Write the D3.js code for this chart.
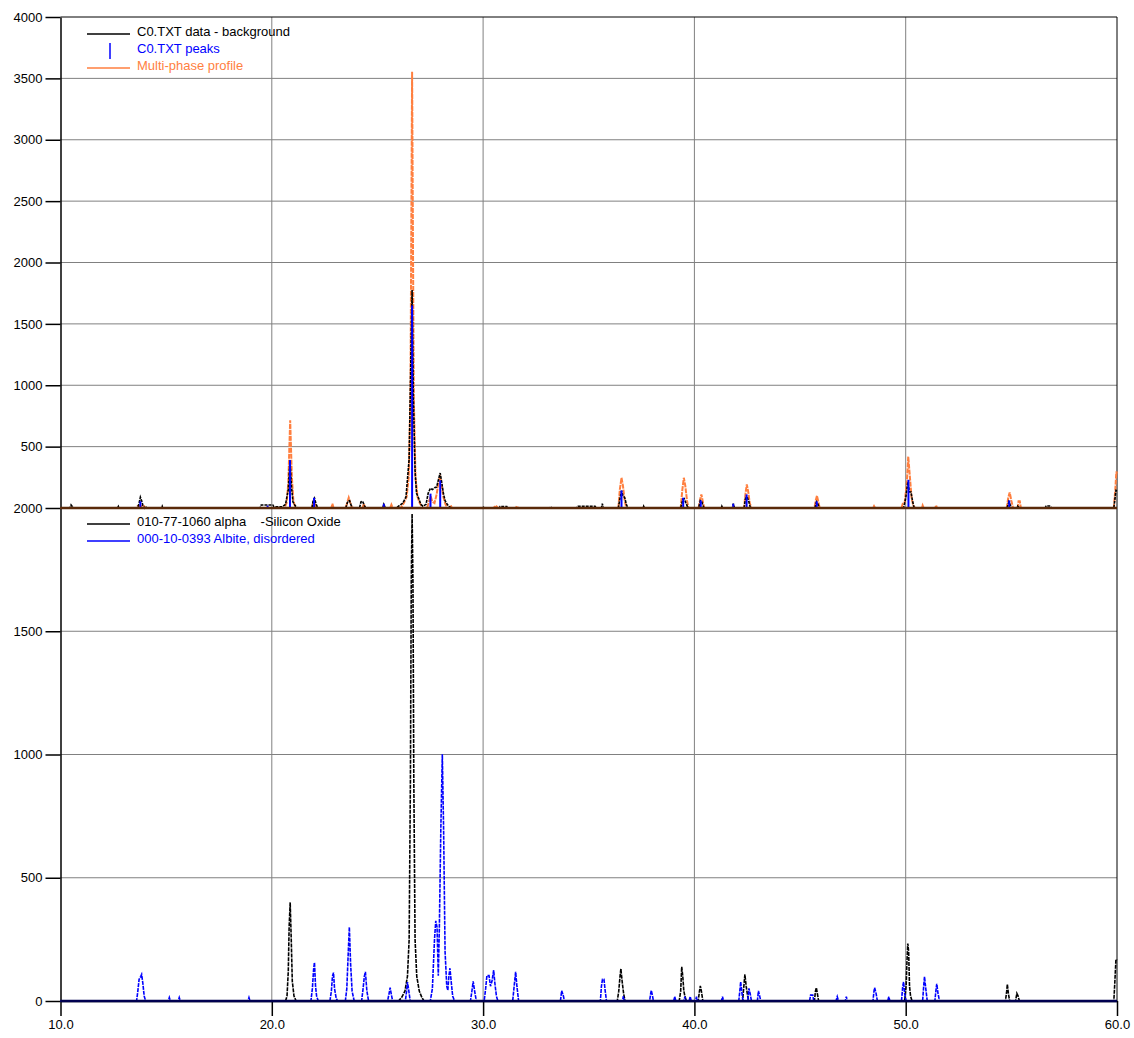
<!DOCTYPE html>
<html>
<head>
<meta charset="utf-8">
<script src="https://cdn.jsdelivr.net/npm/d3@7"></script>
<style>
  body { margin: 0; background: #fff; }
  svg text { font-family: "Liberation Sans", Arial, sans-serif; }
</style>
</head>
<body>
<svg id="chart" width="1134" height="1038"></svg>
<script>
// ---- data (2-theta, counts) ----
var xTicks = [10, 20, 30, 40, 50, 60];
var topTicks = [500, 1000, 1500, 2000, 2500, 3000, 3500, 4000];
var botTicks = [0, 500, 1000, 1500, 2000];

var topLegend = ["C0.TXT data - background", "C0.TXT peaks", "Multi-phase profile"];
var botLegend = ["010-77-1060 alpha    -Silicon Oxide", "000-10-0393 Albite, disordered"];

// data - background (top, black)
var dataMinusBg = [[10,0],[10.45,0],[10.5,25],[10.58,8],[10.65,0],
  [12.7,0],[12.74,14],[12.78,0],
  [13.65,0],[13.72,40],[13.78,88],[13.84,60],[13.9,20],[13.98,0],[14.02,14],[14.08,0],
  [14.8,0],[14.82,14],[14.86,0],
  [19.45,0],[19.5,25],[20.05,25],[20.1,10],[20.5,10],[20.65,30],[20.78,150],[20.86,390],[20.93,180],[21.0,50],[21.1,20],[21.2,0],
  [21.9,0],[21.95,55],[22.02,80],[22.1,30],[22.18,0],
  [23.5,0],[23.6,55],[23.68,60],[23.76,20],[23.85,0],
  [24.15,0],[24.22,50],[24.3,55],[24.38,20],[24.45,0],
  [25.25,0],[25.3,30],[25.38,0],
  [25.9,0],[26.0,15],[26.2,40],[26.35,90],[26.5,400],[26.58,1200],[26.64,1775],[26.7,900],[26.78,300],[26.85,120],[26.95,80],[27.05,30],[27.15,15],
  [27.3,30],[27.4,120],[27.5,160],[27.6,150],[27.7,165],[27.8,170],[27.9,240],[27.97,285],[28.05,200],[28.12,120],[28.2,60],[28.3,30],[28.4,10],[28.5,0],
  [29.98,0],[30.0,12],[30.04,0],[30.78,0],[30.8,12],[31.12,12],[31.15,0],[33.18,0],[33.2,12],[33.24,0],
  [34.4,0],[34.5,14],[35.3,14],[35.35,0],
  [35.6,0],[35.64,35],[35.7,0],
  [36.4,0],[36.48,80],[36.55,140],[36.62,100],[36.7,85],[36.78,30],[36.85,0],
  [37.58,0],[37.6,14],[37.64,0],
  [39.35,0],[39.45,70],[39.52,76],[39.6,40],[39.7,0],
  [40.2,0],[40.28,60],[40.35,50],[40.45,0],
  [41.28,0],[41.3,14],[41.34,0],
  [41.8,0],[41.84,35],[41.9,0],
  [42.35,0],[42.42,80],[42.5,89],[42.58,50],[42.65,0],
  [45.7,0],[45.78,50],[45.85,30],[45.92,0],
  [49.9,0],[50.0,80],[50.1,210],[50.18,130],[50.25,130],[50.32,60],[50.4,0],
  [54.8,0],[54.88,50],[54.96,20],[55.0,0],[55.28,0],[55.3,14],[55.4,0],
  [56.6,0],[56.65,16],[56.85,16],[56.9,0],
  [59.85,0],[59.95,143],[60,140]];

// peak positions and heights (top, blue sticks)
var peakPos = [13.78, 19.8, 20.86, 22.0, 25.3, 26.64, 27.51, 27.97, 36.55, 39.47, 40.3, 41.84, 42.47, 45.79, 50.13, 54.9];
var peakHeight = [55, 20, 390, 84, 35, 1650, 117, 225, 143, 84, 62, 35, 111, 54, 230, 62];

// multi-phase profile (top, orange)
var profile = [[10,0],[13.6,0],[13.65,16],[13.95,16],[14.0,0],
  [20.6,0],[20.7,40],[20.78,200],[20.87,714],[20.95,250],[21.02,60],[21.12,0],
  [21.9,0],[22.0,70],[22.1,0],
  [22.82,0],[22.87,35],[22.92,0],
  [23.5,0],[23.58,50],[23.64,84],[23.72,40],[23.8,0],
  [24.3,0],[24.35,35],[24.42,0],
  [25.6,0],[25.66,27],[25.72,0],
  [26.1,0],[26.25,40],[26.38,90],[26.48,250],[26.56,900],[26.6,2200],[26.64,3553],[26.68,2200],[26.72,900],[26.8,250],[26.9,90],[27.0,40],[27.15,0],
  [27.35,0],[27.45,60],[27.52,95],[27.6,50],[27.7,40],[27.8,110],[27.9,220],[27.96,252],[28.03,200],[28.12,90],[28.22,30],[28.32,0],
  [28.42,0],[28.47,22],[28.52,0],
  [30.5,0],[30.6,20],[30.7,0],
  [31.55,0],[31.6,15],[31.65,0],
  [36.4,0],[36.47,150],[36.55,246],[36.62,180],[36.7,60],[36.78,0],
  [39.35,0],[39.43,150],[39.5,246],[39.57,180],[39.65,60],[39.72,0],
  [40.2,0],[40.27,70],[40.33,111],[40.4,50],[40.47,0],
  [42.35,0],[42.42,120],[42.48,192],[42.55,130],[42.62,40],[42.7,0],
  [45.68,0],[45.74,60],[45.8,100],[45.86,55],[45.93,0],
  [48.45,0],[48.5,16],[48.55,0],
  [49.8,0],[49.86,35],[49.95,40],[50.05,200],[50.12,419],[50.2,250],[50.28,80],[50.36,20],[50.45,0],
  [50.75,0],[50.8,22],[50.85,0],
  [51.4,0],[51.44,22],[51.48,0],
  [54.78,0],[54.85,80],[54.92,127],[55.0,60],[55.08,0],
  [55.3,0],[55.34,54],[55.4,54],[55.45,0],
  [59.85,0],[59.92,150],[59.97,297],[60,280]];

// reference pattern 010-77-1060 (bottom, black)
var quartz = [[10,0],[20.65,0],[20.72,20],[20.78,120],[20.82,300],[20.87,400],[20.92,250],[20.97,80],[21.05,20],[21.15,0],
  [26.0,0],[26.15,15],[26.3,40],[26.42,100],[26.5,250],[26.56,900],[26.6,1700],[26.64,1976],[26.68,1700],[26.72,900],[26.78,250],[26.86,100],[26.98,40],[27.1,15],[27.2,0],
  [36.35,0],[36.42,40],[36.48,100],[36.52,131],[36.58,80],[36.65,30],[36.72,0],
  [39.28,0],[39.35,40],[39.4,139],[39.45,100],[39.5,40],[39.55,20],[39.62,0],
  [40.18,0],[40.24,40],[40.28,61],[40.33,40],[40.4,0],
  [42.28,0],[42.34,60],[42.39,108],[42.45,60],[42.52,20],[42.58,0],
  [45.68,0],[45.73,40],[45.77,54],[45.82,30],[45.88,0],
  [49.95,0],[50.02,60],[50.06,160],[50.1,233],[50.14,200],[50.18,60],[50.23,20],[50.3,0],
  [54.72,0],[54.78,40],[54.81,68],[54.86,30],[54.92,0],
  [55.2,0],[55.26,31],[55.32,20],[55.38,0],
  [59.85,0],[59.9,80],[59.95,169],[60,165]];

// reference pattern 000-10-0393 (bottom, blue)
var albite = [[10,0],[13.6,0],[13.66,40],[13.72,88],[13.8,100],[13.84,108],[13.9,70],[13.96,20],[14.03,0],
  [15.1,0],[15.15,14],[15.2,0],
  [15.57,0],[15.62,14],[15.67,0],
  [18.87,0],[18.92,14],[18.97,0],
  [21.85,0],[21.92,50],[21.98,130],[22.02,156],[22.07,60],[22.12,20],[22.2,0],
  [22.75,0],[22.82,40],[22.87,100],[22.92,115],[22.97,50],[23.05,10],[23.12,0],
  [23.48,0],[23.55,50],[23.62,200],[23.67,300],[23.73,150],[23.8,40],[23.9,0],
  [24.25,0],[24.32,50],[24.38,100],[24.43,118],[24.5,40],[24.58,0],
  [25.48,0],[25.55,30],[25.6,54],[25.66,25],[25.72,0],
  [26.32,0],[26.38,40],[26.42,77],[26.47,50],[26.55,0],
  [27.5,0],[27.6,50],[27.7,250],[27.76,325],[27.82,300],[27.88,103],[27.93,300],[28.0,700],[28.07,1001],[28.13,700],[28.2,200],[28.28,60],[28.33,43],[28.38,100],[28.43,133],[28.5,70],[28.56,20],[28.65,0],
  [29.4,0],[29.47,40],[29.53,80],[29.6,40],[29.68,0],
  [30.05,0],[30.12,50],[30.18,103],[30.28,103],[30.35,60],[30.42,80],[30.5,125],[30.56,70],[30.63,20],[30.7,0],
  [31.4,0],[31.47,60],[31.54,118],[31.6,60],[31.68,0],
  [33.66,0],[33.72,42],[33.8,20],[33.85,0],
  [35.55,0],[35.6,60],[35.65,88],[35.72,88],[35.78,40],[35.84,0],
  [36.6,0],[36.64,20],[36.68,0],
  [37.88,0],[37.93,30],[37.96,43],[38.02,20],[38.06,0],
  [39.02,0],[39.07,18],[39.12,0],
  [39.5,0],[39.55,18],[39.6,0],
  [39.75,0],[39.8,18],[39.85,0],
  [40.05,0],[40.1,18],[40.15,0],
  [41.28,0],[41.33,18],[41.38,0],
  [42.1,0],[42.16,50],[42.19,78],[42.24,40],[42.3,0],
  [42.53,0],[42.58,51],[42.64,30],[42.7,0],
  [42.98,0],[43.03,41],[43.09,20],[43.14,0],
  [45.45,0],[45.5,24],[45.6,24],[45.65,0],
  [46.7,0],[46.76,18],[46.82,0],
  [47.14,0],[47.19,18],[47.24,0],
  [48.45,0],[48.5,40],[48.53,54],[48.6,30],[48.66,0],
  [49.15,0],[49.2,18],[49.25,0],
  [49.8,0],[49.86,60],[49.9,77],[49.95,30],[50.02,0],
  [50.8,0],[50.86,70],[50.89,99],[50.95,50],[51.02,0],
  [51.38,0],[51.44,50],[51.47,70],[51.53,30],[51.6,0],
  [60,0]];

var blue = "#0000ff", orange = "#ff7f3f", grid = "#808080";

var svg = d3.select("#chart");
var plotLeft = 60.5, plotRight = 1117, plotTop = 17, plotMid = 508, plotBottom = 1001;

var x = d3.scaleLinear().domain([10, 60]).range([plotLeft, plotRight]);
var yTop = d3.scaleLinear().domain([0, 4000]).range([plotMid, plotTop]);
var yBot = d3.scaleLinear().domain([0, 2000]).range([plotBottom, plotMid]);

// grid
var g = svg.append("g").attr("stroke", grid).attr("stroke-width", 1);
xTicks.slice(1, -1).forEach(function(t) {
  g.append("line").attr("x1", x(t)).attr("x2", x(t)).attr("y1", plotTop).attr("y2", plotBottom);
});
topTicks.slice(0, -1).forEach(function(t) {
  g.append("line").attr("x1", plotLeft).attr("x2", plotRight).attr("y1", yTop(t)).attr("y2", yTop(t));
});
botTicks.slice(1, -1).forEach(function(t) {
  g.append("line").attr("x1", plotLeft).attr("x2", plotRight).attr("y1", yBot(t)).attr("y2", yBot(t));
});

// frame
svg.append("line").attr("x1", plotLeft).attr("x2", plotRight).attr("y1", plotTop).attr("y2", plotTop).attr("stroke", "#000");
svg.append("line").attr("x1", plotRight).attr("x2", plotRight).attr("y1", plotTop).attr("y2", plotBottom).attr("stroke", "#000");

// axes
function styleAxis(sel) {
  sel.select(".domain").attr("stroke", "#000").attr("stroke-width", 1.5);
  sel.selectAll(".tick line").attr("stroke", "#000").attr("stroke-width", 1.5);
  sel.selectAll("text").attr("font-family", "'Liberation Sans', Arial, sans-serif").attr("font-size", 13).attr("fill", "#000");
}
svg.append("g").attr("transform", "translate(" + plotLeft + ",0)")
  .call(d3.axisLeft(yTop).tickValues(topTicks).tickSize(15).tickPadding(3).tickSizeOuter(0).tickFormat(d3.format("d")))
  .call(styleAxis);
svg.append("g").attr("transform", "translate(" + plotLeft + ",0)")
  .call(d3.axisLeft(yBot).tickValues(botTicks).tickSize(15).tickPadding(3).tickSizeOuter(0).tickFormat(d3.format("d")))
  .call(styleAxis);
svg.append("g").attr("transform", "translate(0," + plotBottom + ")")
  .call(d3.axisBottom(x).tickValues(xTicks).tickSize(15).tickPadding(4).tickSizeOuter(0).tickFormat(d3.format(".1f")))
  .call(styleAxis);

// series
var lineTop = d3.line().x(function(d) { return x(d[0]); }).y(function(d) { return yTop(d[1]); });
var lineBot = d3.line().x(function(d) { return x(d[0]); }).y(function(d) { return yBot(d[1]); });

svg.append("path").datum(profile).attr("d", lineTop)
  .attr("fill", "none").attr("stroke", orange).attr("stroke-width", 2).attr("stroke-dasharray", "5,1");
svg.append("path").datum(dataMinusBg).attr("d", lineTop)
  .attr("fill", "none").attr("stroke", "#000").attr("stroke-width", 1.6).attr("stroke-dasharray", "3,1");
svg.append("g").selectAll("line").data(peakPos).enter().append("line")
  .attr("x1", function(d) { return x(d); }).attr("x2", function(d) { return x(d); })
  .attr("y1", yTop(0)).attr("y2", function(d, i) { return yTop(peakHeight[i]); })
  .attr("stroke", blue).attr("stroke-width", 2);

svg.append("path").datum(quartz).attr("d", lineBot)
  .attr("fill", "none").attr("stroke", "#000").attr("stroke-width", 1.6).attr("stroke-dasharray", "4,1");
svg.append("path").datum(albite).attr("d", lineBot)
  .attr("fill", "none").attr("stroke", blue).attr("stroke-width", 1.6).attr("stroke-dasharray", "4,1");

// baselines
svg.append("line").attr("x1", plotLeft).attr("x2", plotRight).attr("y1", yTop(0)).attr("y2", yTop(0))
  .attr("stroke", "#5a2a0a").attr("stroke-width", 2.5);
svg.append("line").attr("x1", plotLeft).attr("x2", plotRight).attr("y1", yBot(0)).attr("y2", yBot(0))
  .attr("stroke", "#000050").attr("stroke-width", 2.5);

// legends
var lg = svg.append("g").attr("font-size", 13);
lg.append("line").attr("x1", 87).attr("x2", 130).attr("y1", 34).attr("y2", 34).attr("stroke", "#000").attr("stroke-width", 1.5);
lg.append("line").attr("x1", 110).attr("x2", 110).attr("y1", 43).attr("y2", 59).attr("stroke", blue).attr("stroke-width", 1.5);
lg.append("line").attr("x1", 87).attr("x2", 130).attr("y1", 68).attr("y2", 68).attr("stroke", orange).attr("stroke-width", 1.5);
var topColors = ["#000", blue, orange];
topLegend.forEach(function(t, i) {
  lg.append("text").attr("x", 137).attr("y", 36 + i * 17).attr("fill", topColors[i]).text(t);
});
var botColors = ["#000", blue];
botLegend.forEach(function(t, i) {
  lg.append("line").attr("x1", 87).attr("x2", 130).attr("y1", 524 + i * 17).attr("y2", 524 + i * 17)
    .attr("stroke", botColors[i]).attr("stroke-width", 1.5);
  lg.append("text").attr("x", 137).attr("y", 526 + i * 17).attr("fill", botColors[i])
    .style("white-space", "pre").text(t);
});
</script>
</body>
</html>
